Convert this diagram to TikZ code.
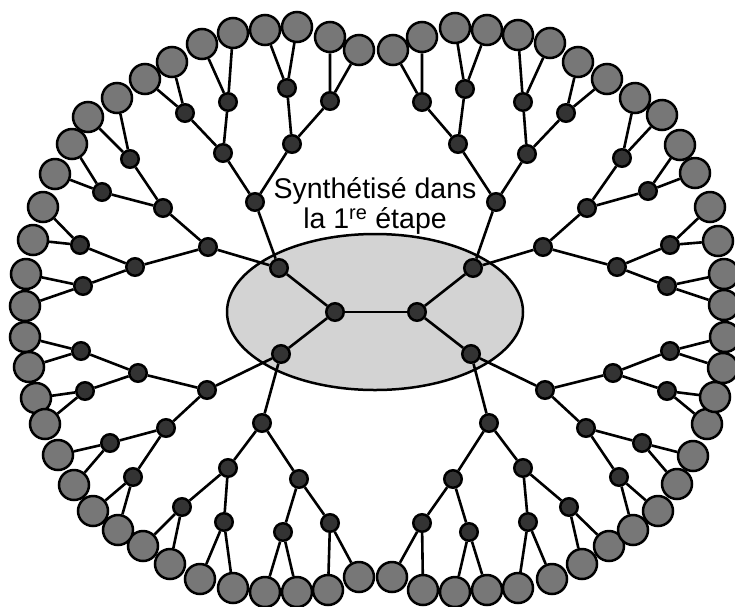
\documentclass[tikz,border=0pt]{standalone}
\usepackage{fontspec}
\setmainfont{Liberation Sans}
\usepackage{tikz}
\usetikzlibrary{shapes.geometric}
\definecolor{unitgray}{HTML}{333333}
\definecolor{leafgray}{HTML}{777777}
\definecolor{coregray}{HTML}{D3D3D3}

\begin{document}
\begin{tikzpicture}[x=1pt,y=-1pt,
                    bond/.style={line width=2.6pt},
                    unit/.style={circle,draw,line width=2.5pt,fill=unitgray,minimum size=17.5pt,inner sep=0pt},
                    leaf/.style={circle,draw,line width=2.5pt,fill=leafgray,minimum size=30pt,inner sep=0pt}]
    \useasboundingbox (0,0) rectangle (735,606);
    \node[ellipse,draw,line width=2.5pt,fill=coregray,minimum width=296pt,minimum height=156pt,inner sep=0pt] (core) at (375,312) {};
    \node[align=center,font=\fontsize{28.5}{30}\selectfont] (title) at (375,206) {Synthétisé dans\\la 1\textsuperscript{re} étape};
    \node[unit] (cl) at (335,312) {};
    \node[unit] (cr) at (417,312) {};
    \draw[bond] (cl) -- (cr);
    \foreach \n/\x/\y/\p in {a/279/268/cl, b/281/354/cl, c/473/268/cr, d/471/354/cr,
                             a1/255/202/a, a2/208/247/a, b1/262/423/b, b2/207/390/b,
                             c1/496/202/c, c2/543/247/c, d1/489/423/d, d2/545/390/d,
                             a11/223/153/a1, a12/292/144/a1, a21/163/208/a2, a22/135/267/a2,
                             b11/228/468/b1, b12/299/479/b1, b21/166/428/b2, b22/138/373/b2,
                             c11/458/144/c1, c12/527/154/c1, c21/587/208/c2, c22/617/267/c2,
                             d11/453/479/d1, d12/523/468/d1, d21/586/428/d2, d22/613/373/d2,
                             a111/185/113/a11, a112/228/102/a11, a121/287/88/a12, a122/330/101/a12,
                             a211/130/159/a21, a212/102/192/a21, a221/80/245/a22, a222/83/286/a22,
                             b111/182/507/b11, b112/224/522/b11, b121/283/532/b12, b122/330/523/b12,
                             b211/110/443/b21, b212/133/477/b21, b221/81/351/b22, b222/85/391/b22,
                             c111/422/102/c11, c112/465/89/c11, c121/523/102/c12, c122/566/113/c12,
                             c211/622/158/c21, c212/648/191/c21, c221/670/245/c22, c222/667/286/c22,
                             d111/422/523/d11, d112/469/532/d11, d121/528/522/d12, d122/569/507/d12,
                             d211/619/477/d21, d212/642/443/d21, d221/667/391/d22, d222/670/351/d22}
        {\node[unit] (\n) at (\x,\y) {};
         \draw[bond] (\p) -- (\n);}
    \foreach \p/\x/\y/\u/\v in {a111/145/79/172/62, a112/202/44/233/33, a121/265/30/297/27, a122/330/37/359/50,
                                a211/88/117/117/98, a212/72/144/55/174, a221/43/207/33/240, a222/26/274/25/306,
                                b111/143/546/170/564, b112/200/579/233/588, b121/265/592/297/592, b122/328/590/359/577,
                                b211/58/455/74/485, b212/93/511/118/530, b221/25/337/29/367, b222/36/398/45/424,
                                c111/393/50/422/37, c112/455/28/487/30, c121/518/35/550/43, c122/578/62/607/79,
                                c211/635/98/662/115, c212/680/145/695/173, c221/710/207/718/241, c222/724/274/724/305,
                                d111/392/577/423/590, d112/455/592/487/590, d121/518/588/552/579, d122/582/564/609/546,
                                d211/633/530/658/511, d212/677/484/693/456, d221/707/424/715/397, d222/723/368/725/337}
        {\node[leaf] (\p1) at (\x,\y) {};
         \node[leaf] (\p2) at (\u,\v) {};
         \draw[bond] (\p) -- (\p1) (\p) -- (\p2);}
\end{tikzpicture}
\end{document}
